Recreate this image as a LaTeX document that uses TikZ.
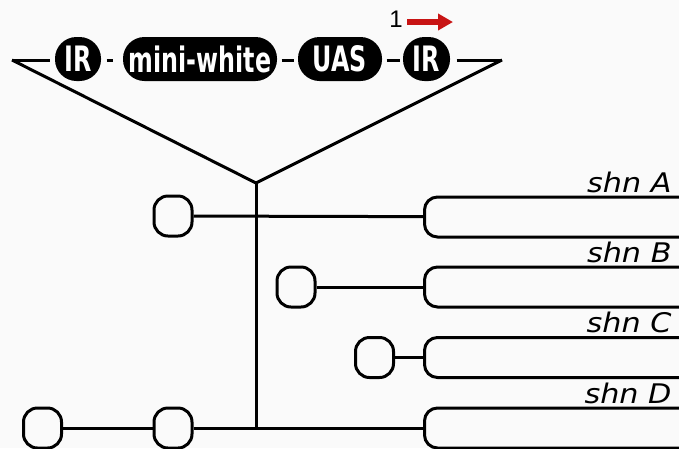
\documentclass[tikz,border=0pt]{standalone}
\usepackage{fontspec}
\usetikzlibrary{arrows.meta}
\newfontfamily\pillfont{DejaVu Sans}[FakeStretch=0.68]
\newfontfamily\labfont{DejaVu Sans}[FakeStretch=1.12]
\setmainfont{Liberation Sans}
\definecolor{bg}{RGB}{250,250,250}
\definecolor{arrowred}{RGB}{200,20,20}
\begin{document}
\begin{tikzpicture}[x=1pt,y=-1pt,
  line width=3pt,
  pill/.style={fill=black, rounded corners=21.5pt, minimum height=44pt, inner sep=0pt,
    text=white, font=\pillfont\bfseries\fontsize{35}{35}\selectfont},
  smallbox/.style={draw, rounded corners=14pt, minimum width=38pt, minimum height=40pt, inner sep=0pt},
  bigbox/.style={draw, rounded corners=13pt, minimum width=290pt, minimum height=40pt, inner sep=0pt, anchor=west},
  lab/.style={anchor=base east, inner sep=0pt, font=\labfont\itshape\fontsize{27}{27}\selectfont}
]
\fill[bg] (0,0) rectangle (679,448);
\useasboundingbox (0,0) rectangle (679,448);
\clip (0,0) rectangle (679,448);

% top bar
\coordinate (ltip) at (12,60);
\coordinate (rtip) at (502,60);
\coordinate (vtx) at (256,183);
\coordinate (bot) at (256,428);

\node[pill, minimum width=46pt] (ir1) at (78,59) {IR};
\node[pill, minimum width=154pt] (mw) at (200,59) {mini-white};
\node[pill, minimum width=84pt] (uas) at (340,59) {UAS};
\node[pill, minimum width=47pt] (ir2) at (426.5,59) {IR};

\draw (ltip) -- ([xshift=-4pt]ir1.west |- ltip);
\draw ([xshift=4pt]ir1.east |- ltip) -- ([xshift=-9pt]mw.west |- ltip);
\draw ([xshift=3pt]mw.east |- ltip) -- ([xshift=-3pt]uas.west |- ltip);
\draw ([xshift=3pt]uas.east |- ltip) -- ([xshift=-2pt]ir2.west |- ltip);
\draw ([xshift=5pt]ir2.east |- ltip) -- (rtip);

\draw[line join=round] (ltip) -- (vtx) -- (rtip);
\draw (vtx) -- (bot);

% label 1 and red arrow
\node[font=\fontsize{24}{24}\selectfont, inner sep=0pt] (one) at (396,19) {1};
\coordinate (arrs) at (407,22);
\coordinate (arre) at (453,22);
\draw[arrowred, line width=6pt, -{Triangle[length=15pt,width=16pt]}] (arrs) -- (arre);

% big boxes
\node[bigbox] (ba) at (423,217) {};
\node[bigbox] (bb) at (423,287) {};
\node[bigbox] (bc) at (423,357.5) {};
\node[bigbox] (bd) at (423,428) {};

\node[lab] (la) at (673,192) {shn A};
\node[lab] (lb) at (673,262) {shn B};
\node[lab] (lc) at (673,332) {shn C};
\node[lab] (ld) at (673,403) {shn D};

% small boxes
\node[smallbox] (sa) at (173,216) {};
\node[smallbox] (sb) at (296,287) {};
\node[smallbox] (sc) at (374.5,357.5) {};
\node[smallbox] (sd1) at (42.5,428) {};
\node[smallbox] (sd2) at (173,428) {};

\draw (sa) -- (ba);
\draw (sb) -- (bb);
\draw (sc) -- (bc);
\draw (sd1) -- (sd2);
\draw (sd2) -- (bd);
\end{tikzpicture}
\end{document}
